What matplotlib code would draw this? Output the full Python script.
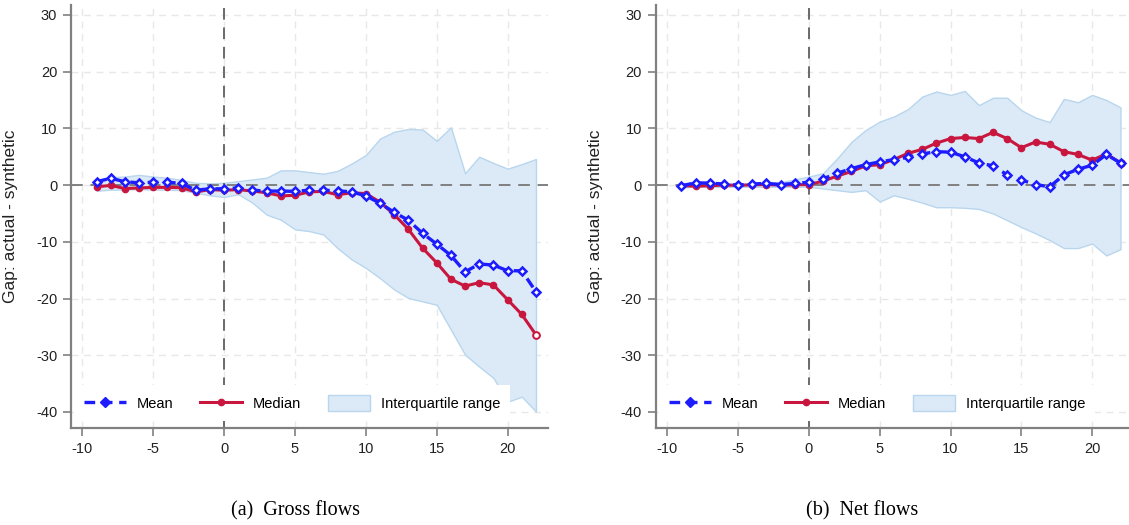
import matplotlib
matplotlib.use("Agg")
import matplotlib.pyplot as plt
from matplotlib.lines import Line2D
from matplotlib.patches import Patch

# event time
periods = list(range(-9, 23))

# (a) gross flows
gross_mean = [0.6, 1.2, 0.6, 0.4, 0.5, 0.5, 0.3, -0.9, -0.65,
              -0.65, -0.5, -0.9, -1.05, -1.05, -1.1, -0.9, -0.9, -1.0, -1.2,
              -1.9, -3.2, -4.8, -6.2, -8.5, -10.4, -12.4, -15.3, -13.9, -14.1,
              -15.1, -15.1, -18.8]
gross_median = [-0.3, -0.05, -0.6, -0.5, -0.4, -0.4, -0.45, -1.2, -0.8,
                -0.9, -0.8, -1.05, -1.35, -1.9, -1.8, -1.2, -1.1, -1.7, -1.35,
                -1.5, -3.0, -5.2, -7.8, -11.1, -13.7, -16.6, -17.8, -17.2, -17.6,
                -20.2, -22.8, -26.4]
gross_q75 = [0.9, 1.4, 1.5, 1.8, 1.5, 1.3, 0.9, 0.4, 0.3,
             0.4, 0.7, 1.0, 1.3, 2.6, 2.6, 2.3, 2.0, 2.5, 3.8,
             5.3, 8.2, 9.4, 9.9, 9.8, 7.8, 10.2, 2.1, 5.0, 3.9,
             2.9, 3.7, 4.6]
gross_q25 = [-1.0, -0.8, -0.8, -0.7, -0.8, -0.8, -0.9, -1.35, -1.8,
             -2.1, -1.6, -3.1, -5.2, -6.1, -7.8, -8.1, -8.7, -11.1, -13.1,
             -14.6, -16.4, -18.4, -19.9, -20.5, -21.1, -25.5, -29.9, -32.0, -34.0,
             -38.2, -37.3, -39.9]

# (b) net flows
net_mean = [-0.1, 0.4, 0.35, 0.2, 0.0, 0.2, 0.3, 0.1, 0.3,
            0.5, 1.1, 2.1, 2.9, 3.6, 4.1, 4.5, 4.9, 5.5, 5.9,
            5.8, 5.0, 3.9, 3.4, 1.8, 0.9, 0.1, -0.3, 1.8, 2.8,
            3.5, 5.4, 3.9]
net_median = [-0.1, -0.2, -0.1, 0.0, -0.05, 0.05, 0.1, 0.0, 0.05,
              0.1, 0.7, 1.6, 2.4, 3.4, 3.6, 4.5, 5.6, 6.3, 7.4,
              8.2, 8.4, 8.2, 9.3, 8.2, 6.6, 7.6, 7.2, 5.9, 5.4,
              4.4, 5.5, 3.9]
net_q75 = [0.2, 0.5, 0.5, 0.4, 0.2, 0.4, 0.5, 0.5, 1.0,
           1.5, 2.1, 4.7, 7.6, 9.7, 11.2, 12.1, 13.4, 15.6, 16.5,
           15.9, 16.6, 14.1, 15.4, 15.4, 13.2, 11.9, 11.1, 15.2, 14.6,
           15.9, 15.0, 13.7]
net_q25 = [-0.4, -0.3, -0.3, -0.3, -0.3, -0.3, -0.3, -0.3, -0.3,
           -0.3, -0.6, -0.9, -1.2, -0.9, -2.9, -1.8, -2.4, -3.1, -3.9,
           -3.9, -4.0, -4.2, -5.0, -6.2, -7.4, -8.5, -9.7, -11.1, -11.1,
           -10.3, -12.4, -11.3]

captions = ["(a)  Gross flows", "(b)  Net flows"]
ylabel = "Gap: actual - synthetic"

BLUE = "#1c1cff"
RED = "#c8163f"
BAND = "#dceaf7"
BAND_EDGE = "#b8d6ee"
AXC = "#808080"

plt.rcParams["font.family"] = ["Liberation Sans", "DejaVu Sans"]

fig = plt.figure(figsize=(11.29, 5.25), dpi=100)
ax_pos = [[0.0629, 0.185, 0.4225, 0.806], [0.581, 0.185, 0.419, 0.806]]
xlims = [(-10.8, 22.85), (-10.8, 22.6)]

panels = [(gross_mean, gross_median, gross_q25, gross_q75),
          (net_mean, net_median, net_q25, net_q75)]

for i, (mean, median, q25, q75) in enumerate(panels):
    ax = fig.add_axes(ax_pos[i])
    ax.fill_between(periods, q25, q75, facecolor=BAND, edgecolor=BAND_EDGE,
                    linewidth=1.0, zorder=1)
    ax.axhline(0, color=AXC, linestyle=(0, (6, 4)), linewidth=1.4, zorder=2)
    ax.axvline(0, color="#6a6a6a", linestyle=(0, (6, 4)), linewidth=1.4, zorder=2)
    ax.plot(periods, median, color=RED, linewidth=2.2, marker="o", markersize=4.5,
            markerfacecolor=RED, markeredgecolor=RED, zorder=3)
    ax.plot(periods[-1:], median[-1:], linestyle="none", marker="o", markersize=4.8,
            markerfacecolor="white", markeredgecolor=RED, markeredgewidth=1.4, zorder=4)
    ax.plot(periods, mean, color=BLUE, linewidth=2.4, linestyle=(0, (3.2, 2.0)),
            marker="D", markersize=4.4, markerfacecolor="white",
            markeredgecolor=BLUE, markeredgewidth=1.8, zorder=4)

    ax.set_xlim(*xlims[i])
    ax.set_ylim(-42.8, 31.8)
    ax.set_xticks([-10, -5, 0, 5, 10, 15, 20])
    ax.set_yticks([-40, -30, -20, -10, 0, 10, 20, 30])
    ax.set_xticklabels(["-10", "-5", "0", "5", "10", "15", "20"])
    ax.set_yticklabels(["-40", "-30", "-20", "-10", "0", "10", "20", "30"])
    ax.grid(True, color="#e8e8e8", linestyle=(0, (5, 4)), linewidth=1.0, zorder=0)
    ax.set_axisbelow(True)
    for side in ["top", "right"]:
        ax.spines[side].set_visible(False)
    for side in ["left", "bottom"]:
        ax.spines[side].set_color(AXC)
        ax.spines[side].set_linewidth(1.6)
    ax.tick_params(axis="both", colors=AXC, labelcolor="#222222", labelsize=10.5,
                   length=6, width=1.2, pad=4)
    ax.set_ylabel(ylabel, fontsize=12.5, color="#222222")
    ax.yaxis.set_label_coords(-0.112, 0.5)

    handles = [
        Line2D([], [], color=BLUE, linewidth=2.4, linestyle=(0, (3.2, 2.0)),
               marker="D", markersize=5, markerfacecolor=BLUE, markeredgecolor=BLUE),
        Line2D([], [], color=RED, linewidth=2.2, marker="o", markersize=4.5),
        Patch(facecolor=BAND, edgecolor=BAND_EDGE),
    ]
    leg = ax.legend(handles, ["Mean", "Median", "Interquartile range"], ncol=3,
                    loc="lower left", bbox_to_anchor=(-0.01, -0.002), fontsize=10.5,
                    frameon=True, fancybox=False, framealpha=1.0,
                    handlelength=2.9, handleheight=1.3, handletextpad=0.75,
                    columnspacing=1.8, borderpad=0.7)
    leg.get_frame().set_edgecolor("none")
    leg.get_frame().set_facecolor("white")
    leg.set_zorder(5)

    fig.text([0.262, 0.764][i], 0.028, captions[i], ha="center", va="center",
             fontsize=14.5, family=["Liberation Serif", "DejaVu Serif"])

fig.savefig("out.png", dpi=100, facecolor="white")
